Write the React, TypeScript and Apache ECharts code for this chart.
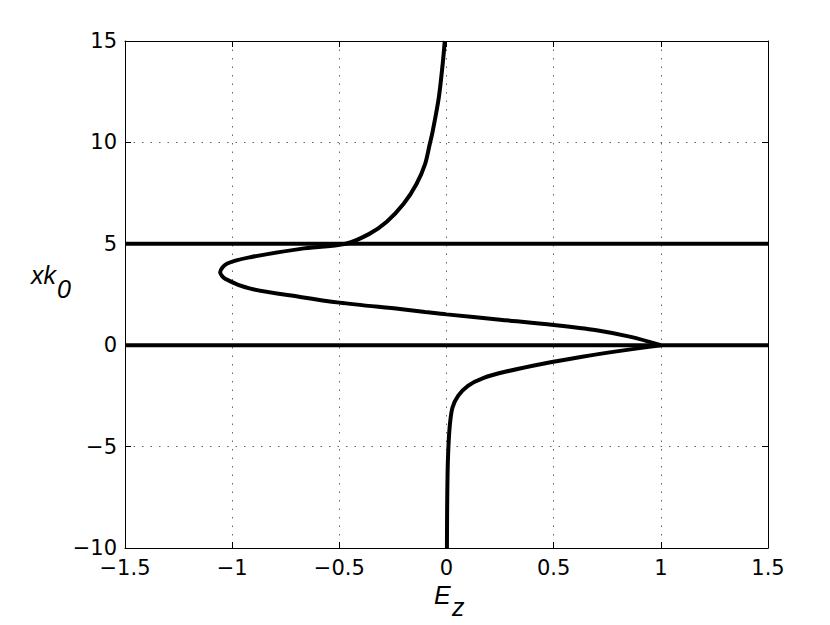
import React, { useEffect, useRef } from "react";
import * as echarts from "echarts";

const xTicks = [-1.5, -1, -0.5, 0, 0.5, 1, 1.5];
const yTicks = [-10, -5, 0, 5, 10, 15];

// position xk0 (ascending) and field value Ez
const xk0 = [-10, -8, -6.34, -5, -3.89, -3.07, -2.49, -2.0, -1.62, -1.3, -0.9, -0.57, -0.28, 0, 0.41, 0.74, 1.0, 1.26, 1.52, 1.64, 1.78, 2.1, 2.38, 2.79, 3.28, 3.6, 4.02, 4.34, 4.75, 5, 5.49, 6.07, 6.97, 7.95, 8.93, 9.92, 10.57, 12.2, 13.85, 15];
const ez = [0.002, 0.003, 0.005, 0.009, 0.016, 0.028, 0.055, 0.1, 0.171, 0.278, 0.456, 0.633, 0.81, 1.0, 0.86, 0.7, 0.5, 0.25, 0, -0.1, -0.217, -0.5, -0.683, -0.915, -1.033, -1.056, -1.025, -0.915, -0.68, -0.47, -0.36, -0.28, -0.2, -0.14, -0.1, -0.078, -0.064, -0.036, -0.018, -0.008];

// interface positions (horizontal lines)
const interfaces = [0, 5];

const FONT = "'DejaVu Sans', 'Liberation Sans', Arial, sans-serif";
const LFONT = "'Liberation Sans', Arial, Helvetica, sans-serif";
const fmt = (v: number) => String(v).replace("-", "\u2212");

export default function App() {
  const ref = useRef<HTMLDivElement>(null);
  useEffect(() => {
    if (!ref.current) return;
    const chart = echarts.init(ref.current, null, { renderer: "svg" });
    const xMin = xTicks[0];
    const xMax = xTicks[xTicks.length - 1];
    const yMin = yTicks[0];
    const yMax = yTicks[yTicks.length - 1];
    const splitStyle = { show: true, lineStyle: { color: "#666", width: 1, type: [1.5, 7] as any } };
    const baseX = {
      type: "value" as const,
      min: xMin,
      max: xMax,
      interval: 0.5,
      axisLine: { show: true, onZero: false, lineStyle: { color: "#000", width: 1 } },
      axisTick: { show: true, inside: true, length: 6, lineStyle: { color: "#000", width: 1 } },
    };
    const baseY = {
      type: "value" as const,
      min: yMin,
      max: yMax,
      interval: 5,
      axisLine: { show: true, onZero: false, lineStyle: { color: "#000", width: 1 } },
      axisTick: { show: true, inside: true, length: 6, lineStyle: { color: "#000", width: 1 } },
    };
    const pts = xk0.map((y, i) => [ez[i], y]);
    const cusp = xk0.indexOf(0);
    const curveStyle = {
      type: "line",
      showSymbol: false,
      smooth: 0.3,
      lineStyle: { color: "#000", width: 4 },
      z: 5,
    };
    const series: any[] = [
      { ...curveStyle, data: pts.slice(0, cusp + 1) },
      { ...curveStyle, data: pts.slice(cusp) },
      ...interfaces.map((v) => ({
        type: "line",
        data: [
          [xMin, v],
          [xMax, v],
        ],
        showSymbol: false,
        lineStyle: { color: "#000", width: 4 },
        z: 4,
      })),
    ];
    chart.setOption({
      animation: false,
      backgroundColor: "#fff",
      grid: { left: 125, right: 62, top: 41, bottom: 77, containLabel: false },
      xAxis: [
        {
          ...baseX,
          position: "bottom",
          axisLabel: { show: true, color: "#000", fontSize: 21, fontFamily: FONT, margin: 9, formatter: fmt },
          splitLine: splitStyle,
        },
        {
          ...baseX,
          position: "top",
          axisLabel: { show: false },
          splitLine: { show: false },
        },
      ],
      yAxis: [
        {
          ...baseY,
          position: "left",
          axisLabel: { show: true, color: "#000", fontSize: 21, fontFamily: FONT, margin: 8, formatter: fmt },
          splitLine: splitStyle,
        },
        {
          ...baseY,
          position: "right",
          axisLabel: { show: false },
          splitLine: { show: false },
        },
      ],
      series,
      graphic: [
        { type: "text", left: 31, top: 262, style: { text: "xk", font: `italic 25px ${LFONT}`, fill: "#000" } },
        { type: "text", left: 57, top: 276, style: { text: "0", font: `italic 25px ${LFONT}`, fill: "#000" } },
        { type: "text", left: 434, top: 582, style: { text: "E", font: `italic 25px ${LFONT}`, fill: "#000" } },
        { type: "text", left: 452, top: 594, style: { text: "z", font: `italic 25px ${LFONT}`, fill: "#000" } },
      ],
    });
    return () => chart.dispose();
  }, []);
  return <div ref={ref} style={{ width: 830, height: 625, position: "absolute", left: 0, top: 0 }} />;
}
